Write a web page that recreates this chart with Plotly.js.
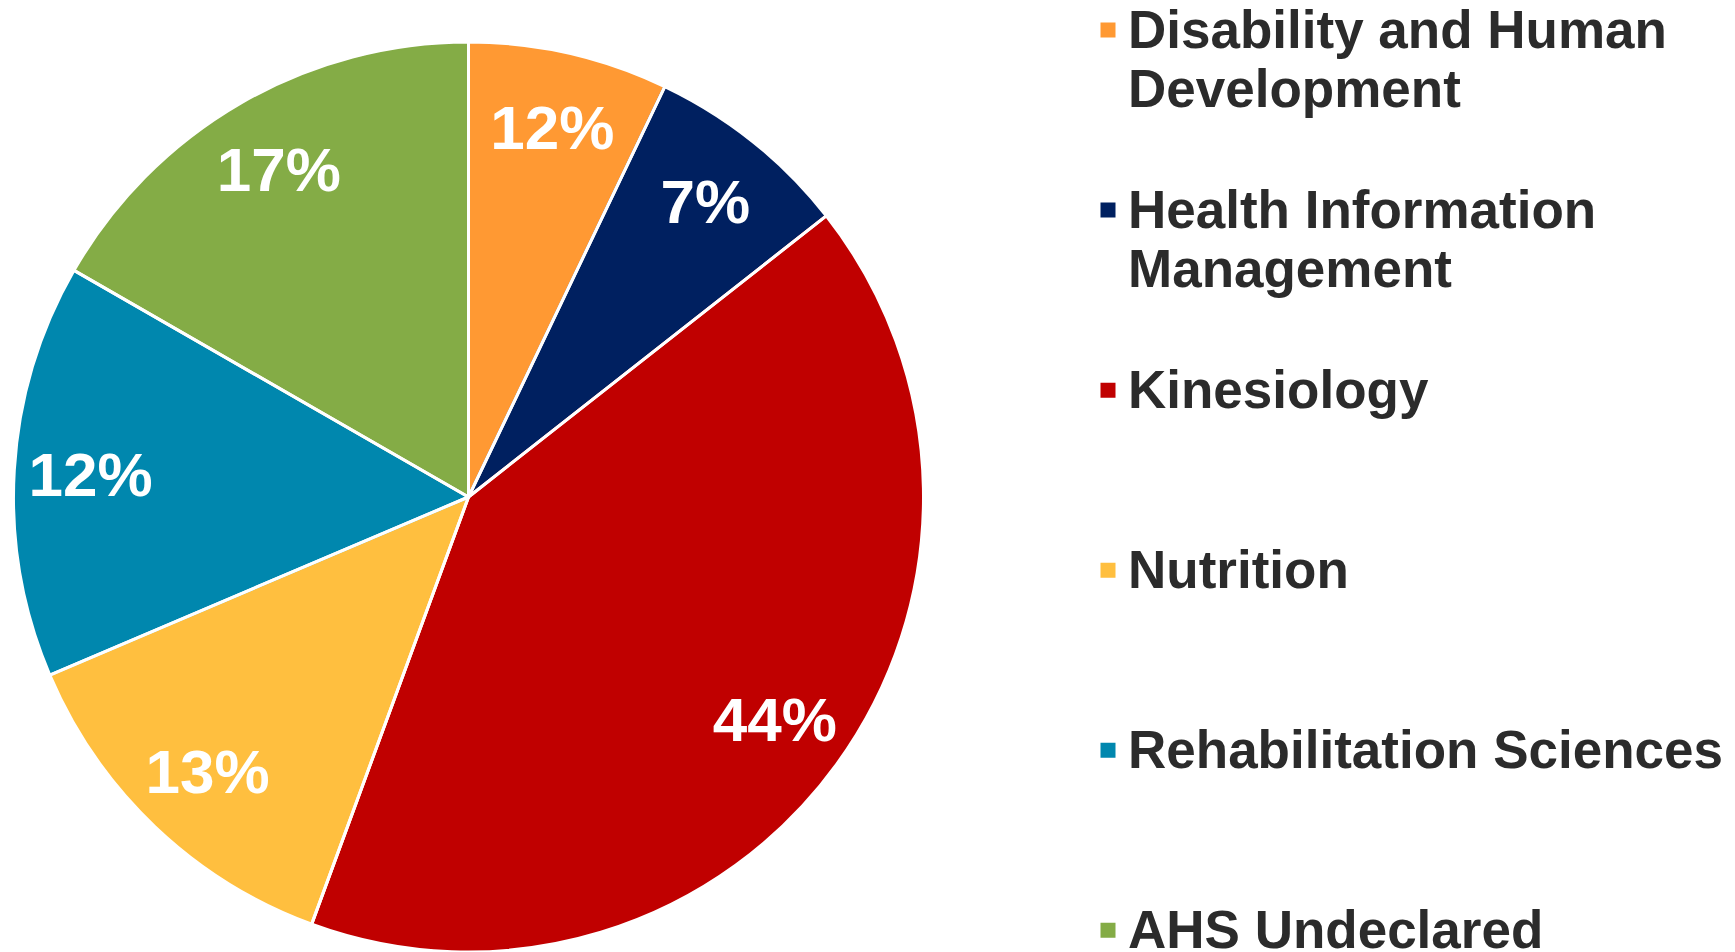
<!DOCTYPE html>
<html>
<head>
<meta charset="utf-8">
<script src="https://cdn.plot.ly/plotly-3.0.1.min.js"></script>
<style>
  html, body { margin: 0; padding: 0; background: #ffffff; }
  #chart { width: 1735px; height: 952px; }
</style>
</head>
<body>
<div id="chart"></div>
<script>
// ---- data ----
const categories = [
  'Disability and Human Development',
  'Health Information Management',
  'Kinesiology',
  'Nutrition',
  'Rehabilitation Sciences',
  'AHS Undeclared'
];
// legend wording as wrapped in the reference
const legendLines = [
  ['Disability and Human', 'Development'],
  ['Health Information', 'Management'],
  ['Kinesiology'],
  ['Nutrition'],
  ['Rehabilitation Sciences'],
  ['AHS Undeclared']
];
// slice sizes as read from the drawn wedges (share of the circle, %)
const values = [7.1, 7.3, 41.2, 13.0, 14.7, 16.7];
// labels printed on the slices in the reference
const sliceLabels = ['12%', '7%', '44%', '13%', '12%', '17%'];
const colors = ['#FF9933', '#002060', '#C00000', '#FFBF3F', '#0087AE', '#84AC46'];

// ---- layout helpers ----
const W = 1735, H = 952;
const FONT = 'Liberation Sans, Arial, Helvetica, sans-serif';
const cx = 468.5, cyTop = 497;           // pie centre (px from left / top)
function dom(r) {
  const cyB = H - cyTop;
  return { x: [(cx - r) / W, (cx + r) / W], y: [(cyB - r) / H, (cyB + r) / H] };
}

// legend labels: bigger glyphs inside a 3-line slot so entries are evenly spaced
const legendLabels = legendLines.map((lines, i) => {
  const parts = lines.map(s => '<span style="font-size:53px">' + s + '</span>');
  if (i < legendLines.length - 1) {
    while (parts.length < 3) parts.push('\u00a0');
  }
  return parts.join('<br>');
});

const transparent = categories.map(() => 'rgba(0,0,0,0)');

const base = {
  type: 'pie',
  labels: legendLabels,
  values: values,
  sort: false,
  direction: 'clockwise',
  rotation: 0
};

const traceFill = Object.assign({}, base, {
  domain: dom(453.5),
  marker: { colors: colors, line: { color: colors, width: 3 } },
  textinfo: 'none',
  hoverinfo: 'none',
  showlegend: true
});

const traceBorders = Object.assign({}, base, {
  domain: dom(455),
  marker: { colors: transparent, line: { color: '#ffffff', width: 3 } },
  textinfo: 'none',
  hoverinfo: 'skip',
  showlegend: false
});

const traceText = Object.assign({}, base, {
  domain: dom(453.5),
  hole: 0.67,
  marker: { colors: transparent, line: { width: 0 } },
  text: sliceLabels,
  textinfo: 'text',
  textposition: 'inside',
  insidetextorientation: 'horizontal',
  textfont: { family: FONT, size: 62, color: '#ffffff', weight: 700 },
  insidetextfont: { family: FONT, size: 62, color: '#ffffff', weight: 700 },
  hoverinfo: 'skip',
  showlegend: false
});

const layout = {
  width: W,
  height: H,
  margin: { l: 0, r: 0, t: 0, b: 0, pad: 0, autoexpand: false },
  paper_bgcolor: '#ffffff',
  plot_bgcolor: '#ffffff',
  showlegend: true,
  legend: {
    x: 1088 / W,
    xanchor: 'left',
    y: 1 + 6 / H,
    yanchor: 'top',
    valign: 'top',
    orientation: 'v',
    maxheight: 1200,
    bgcolor: 'rgba(0,0,0,0)',
    borderwidth: 0,
    font: { family: FONT, size: 45.4, color: '#2b2b2b', weight: 700 }
  }
};

Plotly.newPlot('chart', [traceFill, traceBorders, traceText], layout,
  { displayModeBar: false, staticPlot: true });
</script>
</body>
</html>
